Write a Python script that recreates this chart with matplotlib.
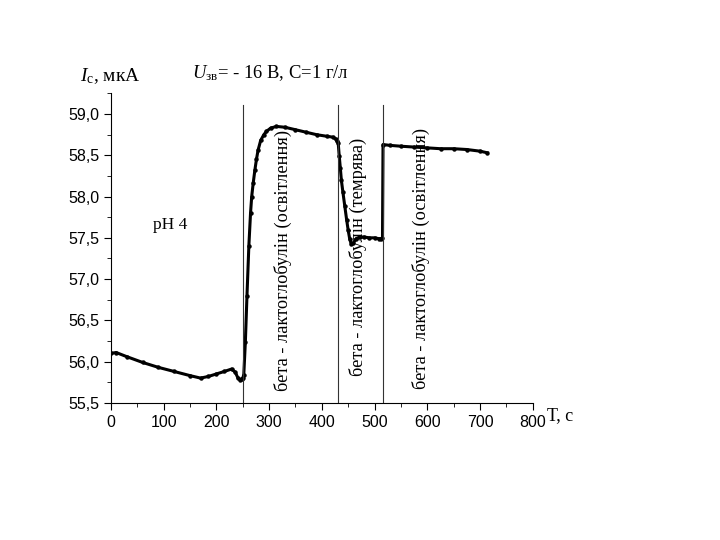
import numpy as np
import matplotlib
matplotlib.use('Agg')
from matplotlib import pyplot as plt
from matplotlib.ticker import MultipleLocator, FuncFormatter

plt.rcParams['mathtext.fontset'] = 'custom'
plt.rcParams['mathtext.rm'] = 'Liberation Serif'
plt.rcParams['mathtext.it'] = 'Liberation Serif:italic'

# data
t1 = [0, 10, 30, 60, 90, 120, 150, 170, 185, 200, 215, 229, 236, 241, 245, 248]
i1 = [56.10, 56.11, 56.06, 55.99, 55.93, 55.88, 55.83, 55.80, 55.82, 55.85, 55.88, 55.91, 55.87, 55.80, 55.78, 55.79]

t2 = [250, 252, 255, 258, 261.6, 264.8, 267, 269.8, 273, 276, 279, 284, 290, 295, 303, 314,
      330, 350, 370, 390, 410, 421, 426, 429]
i2 = [55.80, 55.84, 56.24, 56.79, 57.40, 57.80, 58.00, 58.16, 58.32, 58.45, 58.56, 58.68, 58.75, 58.79, 58.83, 58.85,
      58.84, 58.81, 58.78, 58.75, 58.73, 58.72, 58.70, 58.67]

t3 = [431, 433, 435, 437, 440, 443.6, 447, 450, 453, 456, 460, 465, 472, 480, 490, 500, 508, 513]
i3 = [58.65, 58.49, 58.35, 58.20, 58.05, 57.88, 57.72, 57.59, 57.48, 57.42, 57.44, 57.49, 57.51, 57.51, 57.50, 57.50, 57.49, 57.49]

t4 = [515, 516, 530, 550, 575, 600, 625, 650, 675, 700, 714]
i4 = [57.50, 58.63, 58.62, 58.61, 58.60, 58.59, 58.58, 58.58, 58.57, 58.55, 58.53]

events = [250, 430, 516]
labels = ['бета - лактоглобулін (освітлення)',
          'бета - лактоглобулін (темрява)',
          'бета - лактоглобулін (освітлення)']
label_x = [326, 468, 588]
label_y = [57.23, 57.27, 57.25]

serif = ['Liberation Serif', 'DejaVu Serif']
sans = ['Liberation Sans', 'DejaVu Sans']

fig = plt.figure(figsize=(7.2, 5.4), dpi=100)
ax = fig.add_axes([0.154, 0.254, 0.586, 0.573])

for t, c in [(t1, i1), (t2, i2), (t3, i3), (t4, i4)]:
    ax.plot(t, c, '-', color='black', lw=2.2, marker='o', ms=2.2)

for e in events:
    ax.plot([e, e], [55.5, 59.11], color='#333333', lw=0.8)

for lx, ly, lab in zip(label_x, label_y, labels):
    ax.text(lx, ly, lab, rotation=90, ha='center', va='center',
            fontsize=13.2, family=serif)

ax.text(112, 57.66, 'pH 4', fontsize=12.5, family=serif, ha='center', va='center')

ax.set_xlim(0, 800)
ax.set_ylim(55.5, 59.25)
ax.spines['top'].set_visible(False)
ax.spines['right'].set_visible(False)
ax.spines['left'].set_bounds(55.5, 59.25)
ax.xaxis.set_major_locator(MultipleLocator(100))
ax.xaxis.set_minor_locator(MultipleLocator(50))
ax.yaxis.set_major_locator(MultipleLocator(0.5))
ax.yaxis.set_minor_locator(MultipleLocator(0.25))
ax.yaxis.set_major_formatter(FuncFormatter(lambda v, p: '{:.1f}'.format(v).replace('.', ',')))
ax.tick_params(which='major', length=5, direction='out', labelsize=11.5)
ax.tick_params(which='minor', length=3, direction='out')
for lab in ax.get_xticklabels() + ax.get_yticklabels():
    lab.set_family(sans)

fig.text(80/720, 1 - 76/540, r'$I_{\mathrm{с}}$, мкА', fontsize=14, family=serif, va='center')
fig.text(192/720, 1 - 73/540, r'$U_{\mathrm{зв}}$= - 16 В, С=1 г/л', fontsize=13.4, family=serif, va='center')
fig.text(547/720, 1 - 416/540, 'Т, с', fontsize=13, family=serif, va='center')

fig.savefig('out.png', dpi=100)
